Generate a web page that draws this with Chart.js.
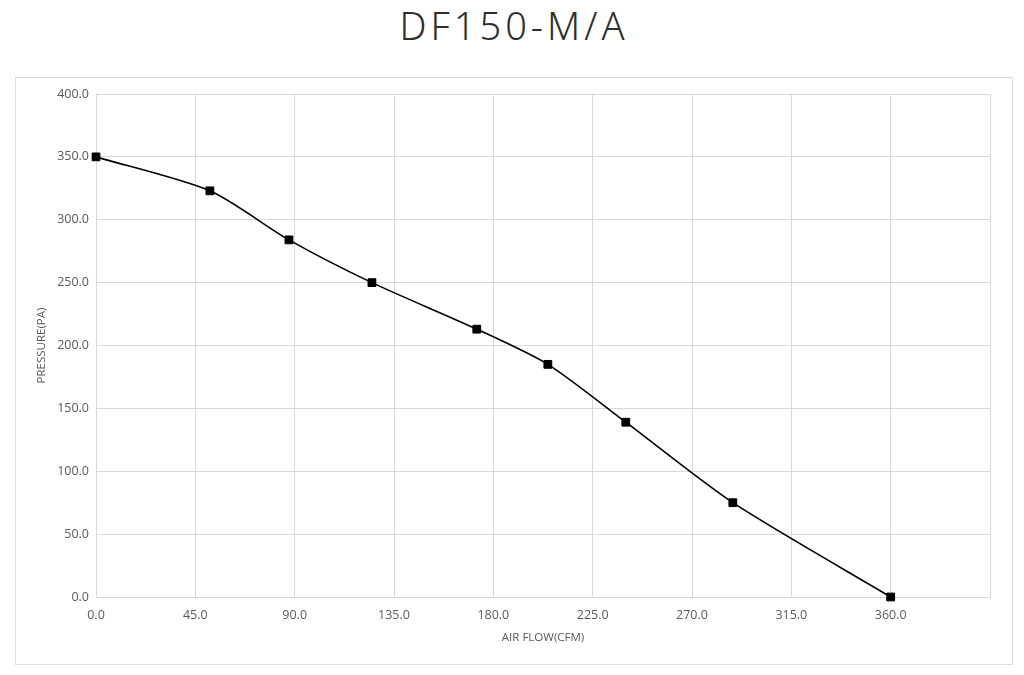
<!DOCTYPE html>
<html>
<head>
<meta charset="utf-8">
<script src="https://cdn.jsdelivr.net/npm/chart.js@4"></script>
<style>
  html,body{margin:0;padding:0;background:#fff;width:1024px;height:675px;overflow:hidden;}
  #title{position:absolute;left:2px;top:3px;width:1024px;text-align:center;font-family:"Noto Sans","Open Sans",sans-serif;font-weight:300;font-size:38px;color:#2e2e2e;letter-spacing:4px;line-height:44px;}
  #box{position:absolute;left:15px;top:77px;width:996px;height:586px;border:1px solid #dcdcdc;}
  #c{position:absolute;left:0;top:0;}
</style>
</head>
<body>
<div id="title">DF150-M/A</div>
<div id="box"><canvas id="c" width="996" height="586"></canvas></div>
<script>
const airFlow = [0, 51.6, 87.4, 125, 172.5, 204.7, 240, 288.5, 360];
const pressure = [350, 323, 284, 250, 213, 185, 139, 75, 0];
const xTitle = 'AIR FLOW(CFM)';
const yTitle = 'PRESSURE(PA)';

const pts = airFlow.map((x, i) => ({x: x, y: pressure[i]}));
const tickFont = {family: '"Open Sans","Noto Sans",sans-serif', size: 12.5};
const titleFont = {family: '"Open Sans","Noto Sans",sans-serif', size: 11.5};
new Chart(document.getElementById('c'), {
  type: 'line',
  data: {datasets: [{
    data: pts,
    borderColor: '#000',
    borderWidth: 1.6,
    backgroundColor: '#000',
    pointStyle: 'rect',
    pointRadius: 5.5,
    pointBorderWidth: 1,
    tension: 0.25,
    fill: false,
    clip: false
  }]},
  options: {
    responsive: false,
    animation: false,
    layout: {padding: {left: 0, top: 16, right: 22, bottom: 0}},
    plugins: {legend: {display: false}, tooltip: {enabled: false}},
    scales: {
      x: {
        type: 'linear', min: 0, max: 405,
        ticks: {stepSize: 45, color: '#595959', font: tickFont, padding: 11,
          callback: v => v >= 405 ? '' : v.toFixed(1), maxRotation: 0},
        grid: {color: '#d9d9d9', drawTicks: false},
        border: {color: '#d9d9d9'},
        title: {display: true, text: xTitle, color: '#595959', font: titleFont, padding: {top: 0, bottom: 19}},
        afterFit: s => { s.height = 67; }
      },
      y: {
        min: 0, max: 400,
        ticks: {stepSize: 50, color: '#595959', font: tickFont, padding: 7, callback: v => v.toFixed(1)},
        grid: {color: '#d9d9d9', drawTicks: false},
        border: {color: '#d9d9d9'},
        title: {display: true, text: yTitle, color: '#595959', font: titleFont, padding: {top: 19, bottom: 0}},
        afterFit: s => { s.width = 80; }
      }
    }
  }
});
</script>
</body>
</html>
